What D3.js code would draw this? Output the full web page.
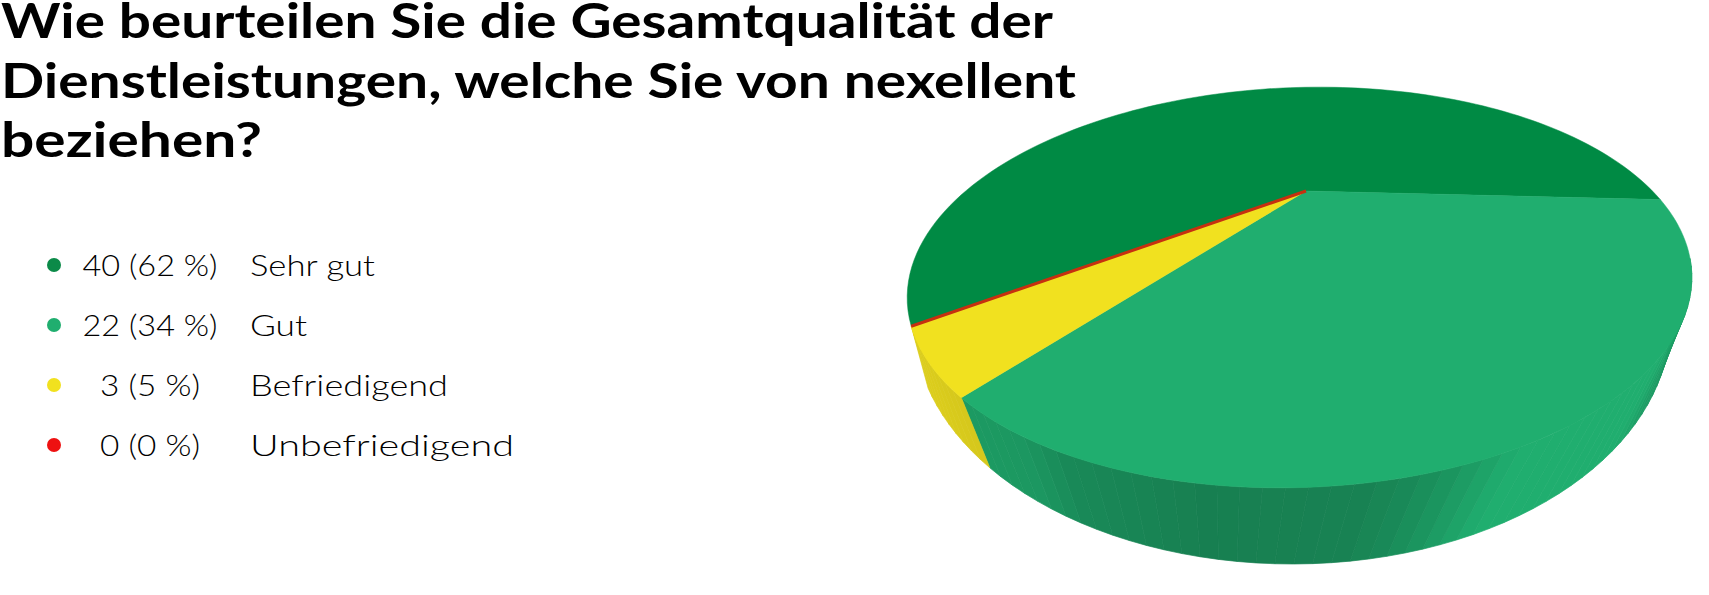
<!DOCTYPE html>
<html>
<head>
<meta charset="utf-8">
<script src="https://cdn.jsdelivr.net/npm/d3@7"></script>
<style>
	html, body { margin: 0; padding: 0; background: #fff; overflow: hidden; }
	svg { display: block; }
</style>
</head>
<body>
<div class="container"></div>
<script>
// chart values
var titleLines = ['Wie beurteilen Sie die Gesamtqualität der', 'Dienstleistungen, welche Sie von nexellent', 'beziehen?'];
var categories = ['Sehr gut', 'Gut', 'Befriedigend', 'Unbefriedigend'];
var counts = [40, 22, 3, 0];
var percents = [62, 34, 5, 0];
var colors = ['#008a44', '#20ae6f', '#f1e11f', '#c63010'];
var dotColors = ['#0b8a48', '#20ae6f', '#f1e11f', '#ee1111'];

const WIDTH = 1709;
const HEIGHT = 595;

// the pie is a flat disc seen in perspective: unit circle -> ellipse, disc centre -> TIP
const CX = 1299.5, CY = 287.5, RX = 392.5, RY = 200;
const TILT = -2 * Math.PI / 180;
const TIP = [1306, 191];
// lower edge of the wall, a rounder ellipse than the top face
const BX = 1292, BY = 323, BRX = 378, BRY = 241;
const START = 235.6 * Math.PI / 180;

var toUnit = function(p){
	var dx = p[0] - CX, dy = p[1] - CY;
	var c = Math.cos(-TILT), s = Math.sin(-TILT);
	return [(dx * c - dy * s) / RX, (dx * s + dy * c) / RY];
}

var pole = toUnit(TIP);
var beta = Math.hypot(pole[0], pole[1]);
var nx = pole[0] / beta, ny = pole[1] / beta;

// a is a d3.pie angle (0 at north, clockwise), r from 0 to 1
var unit = function(a, r){
	var x = r * Math.sin(a), y = -r * Math.cos(a);
	var par = x * nx + y * ny;
	var px = x - par * nx, py = y - par * ny;
	var k = Math.sqrt(1 - beta * beta), d = 1 + beta * par;
	return [((par + beta) * nx + k * px) / d, ((par + beta) * ny + k * py) / d];
}

var project = function(a, r){
	var u = unit(a, r);
	var c = Math.cos(TILT), s = Math.sin(TILT);
	return [CX + u[0] * RX * c - u[1] * RY * s, CY + u[0] * RX * s + u[1] * RY * c];
}

var projectLow = function(a){
	var u = unit(a, 1);
	var phi = Math.atan2(u[1], u[0]);
	phi += 0.15 * Math.cos(phi);
	return [BX + BRX * Math.cos(phi), BY + BRY * Math.sin(phi)];
}

var svg = d3.select('.container').append('svg')
	.attr('width', WIDTH)
	.attr('height', HEIGHT);

var slices = d3.pie().sort(null).startAngle(START).endAngle(START + 2 * Math.PI)(counts);
var line = d3.line();

// wall shading by pie angle, darkest at the front
var shade = d3.scaleLinear()
	.domain([125, 133, 139, 161, 167, 171, 176, 190, 204, 210, 230])
	.range([0.88, 0.9, 1, 1, 0.88, 0.8, 0.75, 0.73, 0.79, 0.87, 0.91])
	.clamp(true);

var degrees = function(a){
	return a * 180 / Math.PI % 360;
}

// only the front of the wall can be seen
var wall = [];
slices.forEach(function(s, i){
	var steps = Math.ceil((s.endAngle - s.startAngle) / (2 * Math.PI / 180));
	var angle = d3.scaleLinear().domain([0, steps]).range([s.startAngle, s.endAngle]);
	d3.range(steps).forEach(function(n){
		var a0 = angle(n), a1 = angle(n + 1);
		if(unit(a0, 1)[1] < -0.1 || unit(a1, 1)[1] < -0.1 || i === 0) return;
		var c = d3.rgb(colors[i]);
		var f = shade(degrees((a0 + a1) / 2));
		wall.push({
			color: d3.rgb(c.r * f, c.g * f, c.b * f).formatHex(),
			points: [project(a0, 1), project(a1, 1), projectLow(a1), projectLow(a0)]
		});
	});
});

svg.append('g').selectAll('path').data(wall)
	.enter().append('path')
	.attr('d', function(w){ return line(w.points) + 'Z'; })
	.attr('fill', function(w){ return w.color; })
	.attr('stroke', function(w){ return w.color; })
	.attr('stroke-width', 0.7);

var facePath = function(s){
	var steps = 120;
	var angle = d3.scaleLinear().domain([0, steps]).range([s.startAngle, s.endAngle]);
	var pts = d3.range(steps + 1).map(function(n){ return project(angle(n), 1); });
	pts.unshift(project(s.startAngle, 0));
	return line(pts) + 'Z';
}

svg.append('g').selectAll('path').data(slices)
	.enter().append('path')
	.attr('d', facePath)
	.attr('fill', function(s, i){ return colors[i]; })
	.attr('stroke', function(s, i){ return colors[i]; })
	.attr('stroke-width', 0.5)
	.attr('stroke-linejoin', 'round');

// the empty slice still shows as a thin red line
svg.append('path')
	.attr('d', line([project(slices[3].startAngle, 0), project(slices[3].startAngle, 1)]))
	.attr('fill', 'none')
	.attr('stroke', colors[3])
	.attr('stroke-width', 3);

// title
var titleWidth = [1052, 1075, 261];
var titleBase = d3.scaleLinear().domain([0, 2]).range([38, 157]);
svg.append('g').selectAll('text').data(titleLines)
	.enter().append('text')
	.attr('x', 1)
	.attr('y', function(t, i){ return titleBase(i); })
	.attr('textLength', function(t, i){ return titleWidth[i]; })
	.attr('lengthAdjust', 'spacingAndGlyphs')
	.style('font-family', 'Lato, "Open Sans", sans-serif')
	.style('font-weight', 700)
	.style('font-size', '48px')
	.attr('fill', '#000')
	.text(function(t){ return t; });

// legend
var legendY = d3.scaleLinear().domain([0, 3]).range([265, 445]);
var countWidth = [135, 135, 100, 100];
var labelWidth = [125, 57, 198, 264];
var legend = svg.append('g').selectAll('g').data(categories)
	.enter().append('g')
	.attr('transform', function(c, i){ return 'translate(0,' + legendY(i) + ')'; });

legend.append('circle')
	.attr('cx', 54)
	.attr('cy', 0)
	.attr('r', 7)
	.attr('fill', function(c, i){ return dotColors[i]; });

legend.append('text')
	.attr('x', 150)
	.attr('y', 11)
	.attr('text-anchor', 'middle')
	.attr('textLength', function(c, i){ return countWidth[i]; })
	.attr('lengthAdjust', 'spacingAndGlyphs')
	.style('font-family', 'Lato, sans-serif')
	.style('font-weight', 300)
	.style('font-size', '30px')
	.attr('fill', '#000')
	.text(function(c, i){ return counts[i] + ' (' + percents[i] + ' %)'; });

legend.append('text')
	.attr('x', 250)
	.attr('y', 11)
	.attr('textLength', function(c, i){ return labelWidth[i]; })
	.attr('lengthAdjust', 'spacingAndGlyphs')
	.style('font-family', 'Lato, sans-serif')
	.style('font-weight', 300)
	.style('font-size', '30px')
	.attr('fill', '#000')
	.text(function(c){ return c; });
</script>
</body>
</html>
